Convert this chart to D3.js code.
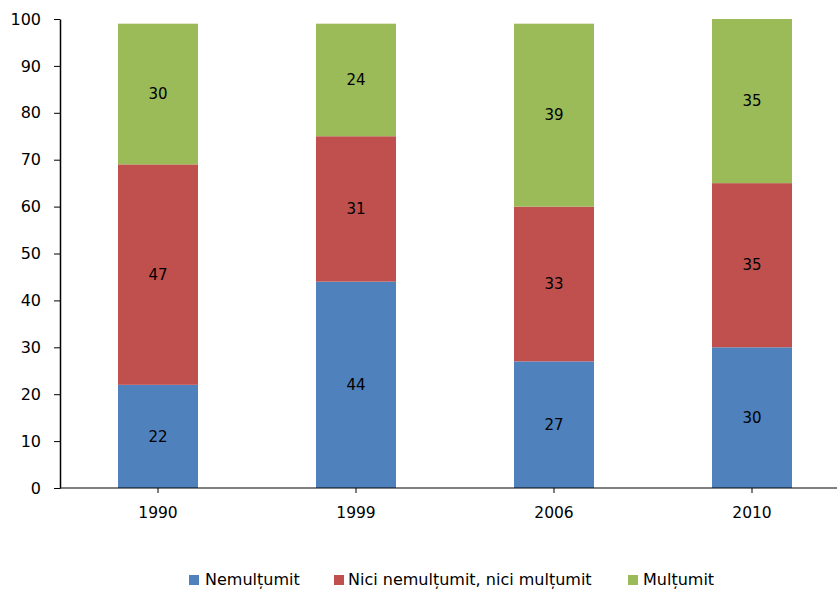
<!DOCTYPE html>
<html><head><meta charset="utf-8">
<script src="https://cdn.jsdelivr.net/npm/d3@7"></script>
<style>body{margin:0;background:#fff}svg{display:block}text{font-family:"DejaVu Sans",Verdana,sans-serif}</style>
</head><body><svg id="c" width="840" height="590"></svg>
<script>
const categories = ["1990","1999","2006","2010"];
const seriesNames = ["Nemulțumit","Nici nemulțumit, nici mulțumit","Mulțumit"];
const nemultumit = [22,44,27,30];
const nici = [47,31,33,35];
const multumit = [30,24,39,35];
const yTicks = [0,10,20,30,40,50,60,70,80,90,100];
const colors = ["#4F81BD","#C0504D","#9BBB59"];

const svg = d3.select("#c");
const m = {l:60, r:837, t:19, b:488};
const x = d3.scaleBand().domain(categories).range([59, 851]).paddingInner(0.596).paddingOuter(0.298);
const y = d3.scaleLinear().domain([0,100]).range([m.b, m.t]);

const rows = categories.map((c,i)=>({cat:c, s0:nemultumit[i], s1:nici[i], s2:multumit[i]}));
const stack = d3.stack().keys(["s0","s1","s2"])(rows);

const g = svg.append("g");
stack.forEach((layer,k)=>{
  g.selectAll(null).data(layer).enter().append("rect")
    .attr("x", d=>x(d.data.cat)).attr("width", x.bandwidth())
    .attr("y", d=>y(d[1])).attr("height", d=>y(d[0])-y(d[1]))
    .attr("fill", colors[k]);
  g.selectAll(null).data(layer).enter().append("text")
    .attr("x", d=>x(d.data.cat)+x.bandwidth()/2)
    .attr("y", d=>(y(d[0])+y(d[1]))/2)
    .attr("dy","0.35em").attr("text-anchor","middle")
    .attr("font-size","15px").attr("fill","#000")
    .text(d=>d[1]-d[0]);
});

// y axis
const ya = svg.append("g").attr("transform",`translate(${m.l},0)`)
  .call(d3.axisLeft(y).tickValues(yTicks).tickSize(6).tickPadding(13).tickSizeOuter(0));
ya.select(".domain").attr("stroke","#000").attr("stroke-width",1.5);
ya.selectAll(".tick line").attr("stroke","#000");
ya.selectAll(".tick text").attr("font-size","16px").attr("fill","#000").style("font-family","'DejaVu Sans',Verdana,sans-serif");

// x axis
const xa = svg.append("g").attr("transform",`translate(0,${m.b})`)
  .call(d3.axisBottom(x).tickSize(5).tickPadding(14).tickSizeOuter(0));
xa.select(".domain").remove();
xa.append("line").attr("x1",m.l).attr("x2",m.r).attr("y1",0).attr("y2",0).attr("stroke","#000");
xa.selectAll(".tick line").attr("stroke","#000");
xa.selectAll(".tick text").attr("font-size","15.5px").attr("fill","#000").style("font-family","'DejaVu Sans',Verdana,sans-serif");

// legend
const legSq = [189, 334, 628];
const legTx = [205, 348, 643];
const leg = svg.append("g");
seriesNames.forEach((n,i)=>{
  leg.append("rect").attr("x",legSq[i]).attr("y",575).attr("width",10).attr("height",10).attr("fill",colors[i]);
  leg.append("text").attr("x",legTx[i]).attr("y",585)
    .attr("font-size","16px").attr("fill","#000").text(n);
});
</script></body></html>
